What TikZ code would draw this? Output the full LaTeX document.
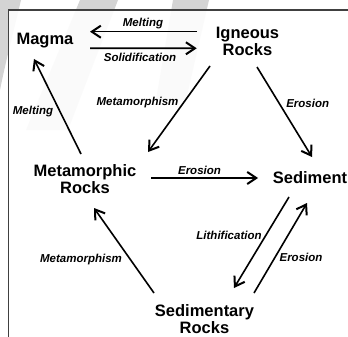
\documentclass[tikz,border=0pt]{standalone}
\usepackage{fontspec}
\setmainfont{Liberation Sans}
\usetikzlibrary{arrows.meta}
\definecolor{wm}{HTML}{D4D4D4}
\definecolor{frame}{HTML}{404040}
\begin{document}
\begin{tikzpicture}[x=1pt,y=-1pt,
  rock/.style={font=\bfseries\fontsize{16.5}{17.2}\selectfont, align=center, inner sep=0pt},
  lbl/.style={font=\bfseries\itshape\fontsize{11.5}{13}\selectfont, inner sep=0pt, anchor=base},
  flow/.style={line width=1.6pt, -{Straight Barb[length=9pt,width=12pt,line width=2pt]}},
]
\useasboundingbox (0,0) rectangle (348,337);
% faint watermark bands
\fill[wm] (0,0) -- (21,0) .. controls (14,30) and (6,60) .. (0,90) -- cycle;
\fill[wm] (80,0) -- (118,0) -- (68,130) -- (26,130) -- cycle;
\fill[wm] (173,0) -- (209,0) -- (186,100) -- (156,100) -- cycle;
\fill[white,opacity=0.9] (8.5,10) rectangle (348,337);
% frame
\draw[frame, line width=1.1pt] (348,10) -- (8.5,10) -- (8.5,337);

% rock nodes
\node[rock] (M)  at (45,40.4)   {Magma};
\node[rock] (I)  at (247.5,41.5) {Igneous\\Rocks};
\node[rock] (Mt) at (85,179.5)  {Metamorphic\\Rocks};
\node[rock] (S)  at (310,177.5) {Sediment};
\node[rock] (Sd) at (204.5,319) {Sedimentary\\Rocks};

% connectors
\draw[flow] ([shift={(-50.5,-9.8)}]I.center) -- ([shift={(45,-8.7)}]M.center);
\draw[flow] ([shift={(45,7.9)}]M.center) -- ([shift={(-50.8,6.8)}]I.center);
\draw[flow] ([shift={(-4,-25.5)}]Mt.center) -- ([shift={(-11,18.6)}]M.center);
\draw[flow] ([shift={(-37.5,24.5)}]I.center) -- ([shift={(63,-27.5)}]Mt.center);
\draw[flow] ([shift={(9.5,25.5)}]I.center) -- ([shift={(2,-20.5)}]S.center);
\draw[flow] ([shift={(66,-1.5)}]Mt.center) -- ([shift={(-52,0.5)}]S.center);
\draw[flow] ([shift={(-21,19.5)}]S.center) -- ([shift={(29.5,-31)}]Sd.center);
\draw[flow] ([shift={(49.5,-26)}]Sd.center) -- ([shift={(-3,25.5)}]S.center);
\draw[flow] ([shift={(-50.5,-26)}]Sd.center) -- ([shift={(9,28.5)}]Mt.center);

% labels
\node[lbl] (l1) at (143,26.7)  {Melting};
\node[lbl] (l2) at (140,61.7)  {Solidification};
\node[lbl] (l3) at (33,114)    {Melting};
\node[lbl] (l4) at (137.5,106) {Metamorphism};
\node[lbl] (l5) at (307.7,107) {Erosion};
\node[lbl] (l6) at (199.5,174) {Erosion};
\node[lbl] (l7) at (229,239)   {Lithification};
\node[lbl] (l8) at (301,261)   {Erosion};
\node[lbl] (l9) at (81,262.3)  {Metamorphism};
\end{tikzpicture}
\end{document}
